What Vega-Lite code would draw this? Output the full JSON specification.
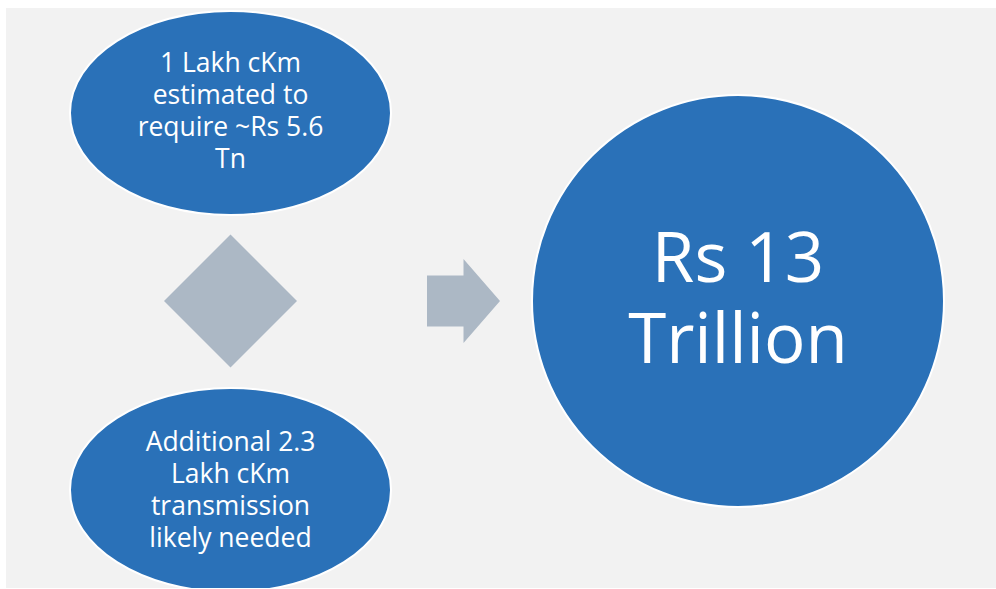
{
  "$schema": "https://vega.github.io/schema/vega-lite/v6.json",
  "width": 990,
  "height": 580,
  "autosize": "none",
  "padding": {"left": 6, "top": 8, "right": 0, "bottom": 1},
  "background": "#FFFFFF",
  "config": {"view": {"stroke": null, "fill": "#F2F2F2"}},
  "encoding": {
    "x": {"field": "x", "type": "quantitative", "scale": {"domain": [6, 996], "nice": false, "zero": false}, "axis": null},
    "y": {"field": "y", "type": "quantitative", "scale": {"domain": [8, 588], "nice": false, "zero": false, "reverse": true}, "axis": null}
  },
  "layer": [
    {
      "data": {"values": [{"item": "existing", "x": 230.5, "y": 113}, {"item": "additional", "x": 230.5, "y": 490}]},
      "mark": {"type": "point", "clip": true, "filled": true, "opacity": 1, "fill": "#2A71B8", "stroke": "#FFFFFF", "strokeWidth": 2, "strokeOpacity": 1, "fillOpacity": 1, "size": 103041,
        "shape": "M -1 0 C -1 -0.351 -0.5523 -0.6355 0 -0.6355 C 0.5523 -0.6355 1 -0.351 1 0 C 1 0.351 0.5523 0.6355 0 0.6355 C -0.5523 0.6355 -1 0.351 -1 0 Z"}
    },
    {
      "data": {"values": [{"item": "total", "x": 738, "y": 301}]},
      "mark": {"type": "point", "shape": "circle", "filled": true, "opacity": 1, "fill": "#2A71B8", "stroke": "#FFFFFF", "strokeWidth": 2, "strokeOpacity": 1, "fillOpacity": 1, "size": 169744}
    },
    {
      "data": {"values": [{"item": "plus", "x": 230.5, "y": 301}]},
      "mark": {"type": "point", "shape": "diamond", "filled": true, "opacity": 1, "fill": "#ACB8C5", "strokeWidth": 0, "fillOpacity": 1, "size": 17689}
    },
    {
      "data": {"values": [{"item": "arrow", "x": 463.5, "y": 301}]},
      "mark": {"type": "point", "filled": true, "opacity": 1, "fill": "#ACB8C5", "strokeWidth": 0, "fillOpacity": 1, "size": 7056,
        "shape": "M -0.869 -0.607 L 0 -0.607 L 0 -1 L 0.869 0 L 0 1 L 0 0.607 L -0.869 0.607 Z"}
    },
    {
      "data": {"values": [
        {"x": 230.5, "y": 72, "label": "1 Lakh cKm\nestimated to\nrequire ~Rs 5.6\nTn"},
        {"x": 230.5, "y": 451, "label": "Additional 2.3\nLakh cKm\ntransmission\nlikely needed"}
      ]},
      "mark": {"type": "text", "font": "Open Sans", "fontSize": 26.5, "color": "#FFFFFF", "align": "center", "baseline": "alphabetic", "lineBreak": "\n", "lineHeight": 32},
      "encoding": {"text": {"field": "label", "type": "nominal"}}
    },
    {
      "data": {"values": [{"x": 738, "y": 282, "label": "Rs 13\nTrillion"}]},
      "mark": {"type": "text", "font": "Open Sans", "fontSize": 69, "color": "#FFFFFF", "align": "center", "baseline": "alphabetic", "lineBreak": "\n", "lineHeight": 81},
      "encoding": {"text": {"field": "label", "type": "nominal"}}
    }
  ]
}
